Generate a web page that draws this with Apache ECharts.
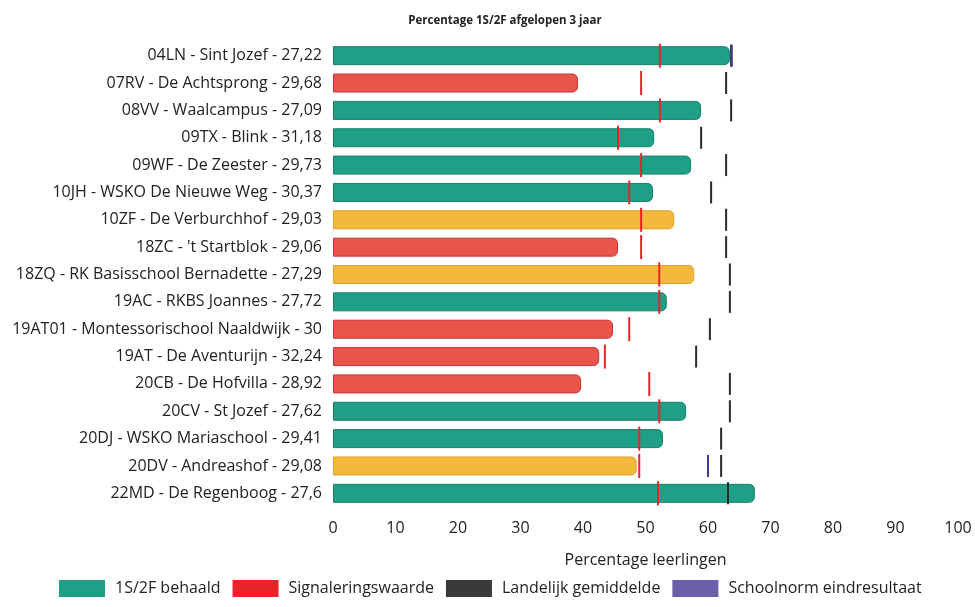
<!DOCTYPE html>
<html>
<head>
<meta charset="utf-8">
<script src="https://cdn.jsdelivr.net/npm/echarts@6/dist/echarts.min.js"></script>
<style>
  html, body { margin: 0; padding: 0; background: #fff; }
  #chart { width: 975px; height: 607px; }
</style>
</head>
<body>
<div id="chart"></div>
<script>
let categories = [
    '04LN - Sint Jozef - 27,22',
    '07RV - De Achtsprong - 29,68',
    '08VV - Waalcampus - 27,09',
    '09TX - Blink - 31,18',
    '09WF - De Zeester - 29,73',
    '10JH - WSKO De Nieuwe Weg - 30,37',
    '10ZF - De Verburchhof - 29,03',
    '18ZC - \'t Startblok - 29,06',
    '18ZQ - RK Basisschool Bernadette - 27,29',
    '19AC - RKBS Joannes - 27,72',
    '19AT01 - Montessorischool Naaldwijk - 30',
    '19AT - De Aventurijn - 32,24',
    '20CB - De Hofvilla - 28,92',
    '20CV - St Jozef - 27,62',
    '20DJ - WSKO Mariaschool - 29,41',
    '20DV - Andreashof - 29,08',
    '22MD - De Regenboog - 27,6'
];
// percentage 1S/2F behaald
let behaald = [63.5, 39.2, 58.9, 51.4, 57.3, 51.2, 54.6, 45.6, 57.8, 53.4, 44.8, 42.6, 39.7, 56.5, 52.8, 48.6, 67.5];
// status colour per school: g = groen, r = rood, y = geel
let status = ['g', 'r', 'g', 'g', 'g', 'g', 'y', 'r', 'y', 'g', 'r', 'r', 'r', 'g', 'g', 'y', 'g'];
let signalering = [52.3, 49.3, 52.3, 45.6, 49.3, 47.4, 49.3, 49.3, 52.2, 52.2, 47.4, 43.5, 50.6, 52.2, 49.0, 49.0, 52.0];
let landelijk = [63.7, 62.9, 63.7, 58.9, 62.9, 60.5, 62.9, 62.9, 63.5, 63.5, 60.3, 58.1, 63.5, 63.5, 62.1, 62.1, 63.2];
let schoolnorm = [63.8, null, null, null, null, null, null, null, null, null, null, null, null, null, null, 60.0, null];

let statusColors = { g: '#1e9f86', r: '#e9544b', y: '#f4b93c' };
let statusBorders = { g: '#17806b', r: '#c8333a', y: '#dca12c' };

let font = 'Open Sans';
let myChart = echarts.init(document.getElementById('chart'));

function markers(values) {
    return values.map(function (v, i) {
        return v == null ? null : [v, i];
    });
}

let option = {
    backgroundColor: '#fff',
    title: {
        text: 'Percentage 1S/2F afgelopen 3 jaar',
        left: 500,
        top: 10,
        textAlign: 'center',
        textStyle: { fontFamily: font, fontSize: 11.5, fontWeight: 'bold', color: '#222' }
    },
    legend: {
        top: 580,
        left: 59,
        padding: 0,
        itemWidth: 46,
        itemHeight: 17,
        itemGap: 12,
        icon: 'rect',
        textStyle: { fontFamily: font, fontSize: 16, color: '#222', padding: [0, 0, 0, 5] },
        data: [
            { name: '1S/2F behaald', itemStyle: { color: '#1e9f86' } },
            { name: 'Signaleringswaarde', itemStyle: { color: '#e8232a' } },
            { name: 'Landelijk gemiddelde', itemStyle: { color: '#3a3a3a' } },
            { name: 'Schoolnorm eindresultaat', itemStyle: { color: '#6a5fa8' } }
        ]
    },
    grid: { left: 333, right: 17, top: 42, bottom: 100, containLabel: false },
    xAxis: {
        type: 'value',
        min: 0,
        max: 100,
        interval: 10,
        name: 'Percentage leerlingen',
        nameLocation: 'middle',
        nameGap: 45,
        nameTextStyle: { fontFamily: font, fontSize: 16, color: '#222' },
        axisLine: { show: false },
        axisTick: { show: false },
        splitLine: { show: false },
        axisLabel: { fontFamily: font, fontSize: 16, color: '#222', margin: 13 }
    },
    yAxis: {
        type: 'category',
        data: categories,
        inverse: true,
        axisLine: { show: false },
        axisTick: { show: false },
        axisLabel: { fontFamily: font, fontSize: 16, color: '#222', margin: 11 }
    },
    series: [
        {
            name: '1S/2F behaald',
            type: 'bar',
            barWidth: 19,
            data: behaald.map(function (v, i) {
                return {
                    value: v,
                    itemStyle: {
                        color: statusColors[status[i]],
                        borderColor: statusBorders[status[i]],
                        borderWidth: 1,
                        borderRadius: [0, 5, 5, 0]
                    }
                };
            }),
            z: 2
        },
        {
            name: 'Signaleringswaarde',
            type: 'scatter',
            symbol: 'rect',
            symbolSize: [2, 24],
            itemStyle: { color: '#e8232a', opacity: 1 },
            data: markers(signalering),
            z: 5
        },
        {
            name: 'Landelijk gemiddelde',
            type: 'scatter',
            symbol: 'rect',
            symbolSize: [2, 22],
            itemStyle: { color: '#2a2a2a', opacity: 1 },
            data: markers(landelijk),
            z: 4
        },
        {
            name: 'Schoolnorm eindresultaat',
            type: 'scatter',
            symbol: 'rect',
            symbolSize: [2, 22],
            itemStyle: { color: '#3b3a8c', opacity: 1 },
            data: markers(schoolnorm),
            z: 4
        }
    ]
};
myChart.setOption(option);
</script>
</body>
</html>
